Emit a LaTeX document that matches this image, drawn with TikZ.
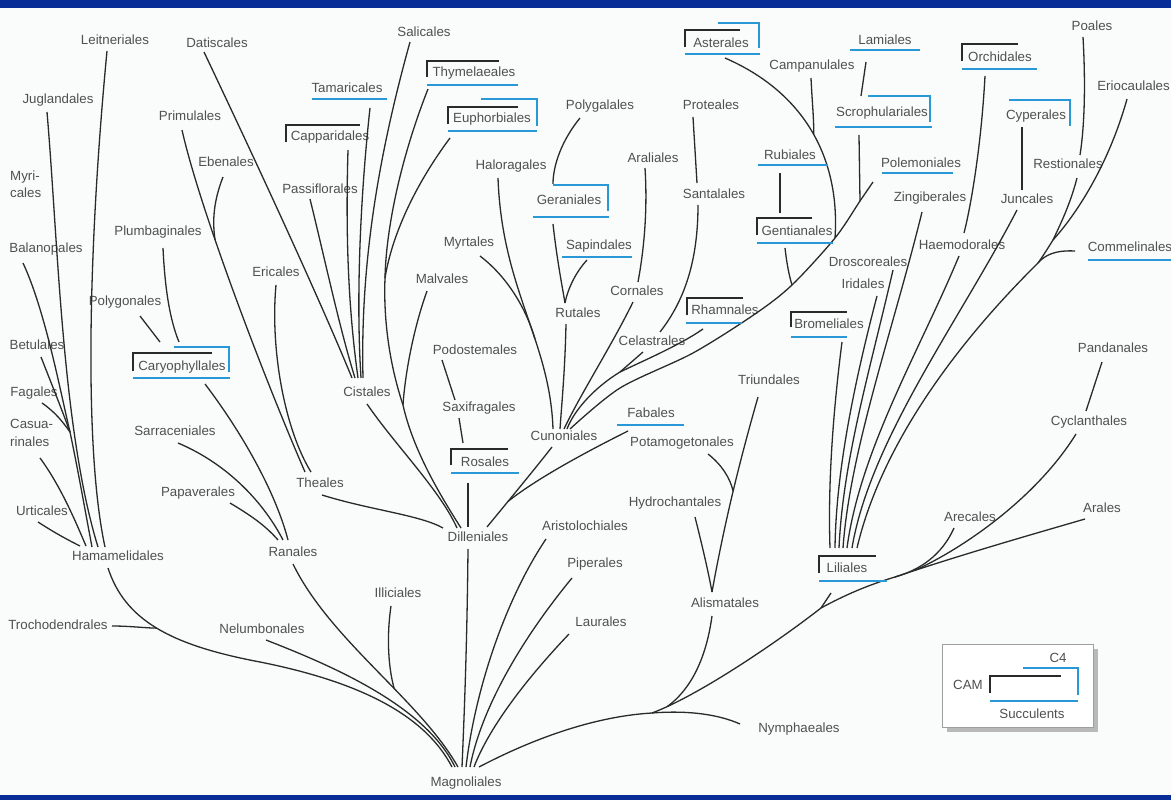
\documentclass[tikz,border=0pt]{standalone}
\usepackage{fontspec}
\setmainfont{Liberation Sans}
\definecolor{navy}{RGB}{8,45,150}
\definecolor{lblue}{RGB}{40,152,215}
\definecolor{ink}{RGB}{42,42,42}
\definecolor{txt}{RGB}{80,80,80}
\definecolor{bgc}{RGB}{250,251,251}
\newcommand\lblfont{\fontsize{13.3}{17.5}\selectfont}
\begin{document}
\begin{tikzpicture}[x=1pt,y=-1pt,
  lbl/.style={font=\lblfont,text=txt,inner sep=0pt},
  edge/.style={draw=ink,line width=1.3pt},
  ul/.style={draw=lblue,line width=2.4pt},
  bb/.style={draw=ink,line width=1.9pt}]
\useasboundingbox (0,0) rectangle (1171,800);
\fill[bgc] (0,0) rectangle (1171,800);
\fill[navy] (0,0) rectangle (1171,8);
\fill[navy] (0,795) rectangle (1171,800);

% ---------------- labels ----------------
\node[lbl] (leit) at (115,40) {Leitneriales};
\node[lbl] (dat) at (217,43) {Datiscales};
\node[lbl] (sal) at (424,32) {Salicales};
\node[lbl] (jug) at (58,100) {Juglandales};
\node[lbl] (prim) at (190,116) {Primulales};
\node[lbl] (tam) at (347,88) {Tamaricales};
\node[lbl] (thy) at (474,73) {Thymelaeales};
\node[lbl] (euph) at (492,119) {Euphorbiales};
\node[lbl] (capp) at (330,137) {Capparidales};
\node[lbl] (polyg) at (600,106) {Polygalales};
\node[lbl] (prot) at (711,105) {Proteales};
\node[lbl] (aster) at (721,43) {Asterales};
\node[lbl] (camp) at (812,66) {Campanulales};
\node[lbl] (lam) at (885,40) {Lamiales};
\node[lbl] (scro) at (882,113) {Scrophulariales};
\node[lbl] (orch) at (1000,57) {Orchidales};
\node[lbl] (poa) at (1092,26) {Poales};
\node[lbl,anchor=east] (erio) at (1170,86) {Eriocaulales};
\node[lbl] (cyp) at (1036,116) {Cyperales};
\node[lbl,anchor=west,align=left] (myr) at (10,184) {Myri-\\cales};
\node[lbl] (eben) at (226,162) {Ebenales};
\node[lbl] (halo) at (511,166) {Haloragales};
\node[lbl] (aral) at (653,158) {Araliales};
\node[lbl] (rub) at (790,155) {Rubiales};
\node[lbl] (polem) at (921,163) {Polemoniales};
\node[lbl] (rest) at (1068,164) {Restionales};
\node[lbl] (sant) at (714,194) {Santalales};
\node[lbl] (pass) at (320,189) {Passiflorales};
\node[lbl] (ger) at (569,200) {Geraniales};
\node[lbl] (zing) at (930,198) {Zingiberales};
\node[lbl] (junc) at (1027,199) {Juncales};
\node[lbl] (plum) at (158,232) {Plumbaginales};
\node[lbl] (gent) at (797,231) {Gentianales};
\node[lbl] (myrt) at (469,243) {Myrtales};
\node[lbl] (sap) at (599,246) {Sapindales};
\node[lbl] (haem) at (962,245) {Haemodorales};
\node[lbl] (comm) at (1130,247) {Commelinales};
\node[lbl] (bal) at (46,249) {Balanopales};
\node[lbl] (dros) at (868,262) {Droscoreales};
\node[lbl] (eric) at (276,272) {Ericales};
\node[lbl] (malv) at (442,279) {Malvales};
\node[lbl] (irid) at (863,284) {Iridales};
\node[lbl] (corn) at (637,291) {Cornales};
\node[lbl] (polygo) at (125,302) {Polygonales};
\node[lbl] (rut) at (578,313) {Rutales};
\node[lbl] (rham) at (725,310) {Rhamnales};
\node[lbl] (brom) at (829,324) {Bromeliales};
\node[lbl] (cel) at (652,341) {Celastrales};
\node[lbl] (bet) at (37,345) {Betulales};
\node[lbl] (pod) at (475,350) {Podostemales};
\node[lbl] (pand) at (1113,348) {Pandanales};
\node[lbl] (cary) at (182,367) {Caryophyllales};
\node[lbl] (triu) at (769,380) {Triundales};
\node[lbl] (cist) at (367,392) {Cistales};
\node[lbl] (fag) at (34,393) {Fagales};
\node[lbl] (sax) at (479,408) {Saxifragales};
\node[lbl] (fab) at (651,413) {Fabales};
\node[lbl,anchor=west,align=left] (casu) at (10,433) {Casua-\\rinales};
\node[lbl] (cycl) at (1089,422) {Cyclanthales};
\node[lbl] (sarr) at (175,431) {Sarraceniales};
\node[lbl] (cuno) at (564,436) {Cunoniales};
\node[lbl] (pota) at (682,443) {Potamogetonales};
\node[lbl] (ros) at (485,462) {Rosales};
\node[lbl] (the) at (320,483) {Theales};
\node[lbl] (pap) at (198,493) {Papaverales};
\node[lbl] (hydr) at (675,503) {Hydrochantales};
\node[lbl] (urt) at (42,511) {Urticales};
\node[lbl] (arl) at (1102,508) {Arales};
\node[lbl] (arec) at (970,517) {Arecales};
\node[lbl] (aris) at (585,526) {Aristolochiales};
\node[lbl] (dill) at (478,537) {Dilleniales};
\node[lbl] (ran) at (293,552) {Ranales};
\node[lbl] (hama) at (118,556) {Hamamelidales};
\node[lbl] (pip) at (595,564) {Piperales};
\node[lbl] (lili) at (847,568) {Liliales};
\node[lbl] (illi) at (398,593) {Illiciales};
\node[lbl] (alis) at (725,603) {Alismatales};
\node[lbl] (laur) at (601,622) {Laurales};
\node[lbl] (troc) at (58,625) {Trochodendrales};
\node[lbl] (nelu) at (262,629) {Nelumbonales};
\node[lbl] (nymp) at (799,729) {Nymphaeales};
\node[lbl] (magn) at (466,783) {Magnoliales};

% ---------------- coordinates ----------------
% Hamamelidales group
\coordinate (t-leit) at (107,51);
\coordinate (t-jug) at (47,112);
\coordinate (t-bal) at (23,263);
\coordinate (t-bet) at (41,357);
\coordinate (t-fag) at (42,403);
\coordinate (t-casu) at (40,458);
\coordinate (t-urt) at (38,522);
\coordinate (j-bet) at (70,432);
\coordinate (e-ham1) at (80,546);
\coordinate (e-ham2) at (86,546);
\coordinate (e-ham3) at (92,547);
\coordinate (e-ham4) at (98,547);
\coordinate (e-ham5) at (105,547);
\coordinate (t-hama) at (108,568);
\coordinate (t-troc) at (112,626);
% Magnoliales ends
\coordinate (e-mag1) at (452,767);
\coordinate (e-mag2) at (455,767);
\coordinate (e-mag3) at (458,767);
\coordinate (e-mag4) at (462,767);
\coordinate (e-mag5) at (466,767);
\coordinate (e-mag6) at (470,767);
\coordinate (e-mag7) at (474,767);
\coordinate (e-mag8) at (479,767);
\coordinate (t-nelu) at (266,640);
\coordinate (t-ran) at (293,564);
\coordinate (t-illi) at (391,606);
\coordinate (t-dill) at (468,549);
\coordinate (t-aris) at (546,539);
\coordinate (t-pip) at (572,578);
\coordinate (t-laur) at (569,634);
% monocots
\coordinate (j-nym) at (652,713);
\coordinate (t-nymp) at (740,724);
\coordinate (j-lil) at (821,608);
\coordinate (t-alis) at (712,616);
\coordinate (t-lili) at (831,593);
\coordinate (j-are) at (895,577);
\coordinate (t-arl) at (1085,519);
\coordinate (t-arec) at (954,528);
\coordinate (t-cycl) at (1076,434);
\coordinate (t-pand) at (1102,362);
\coordinate (e-pand) at (1086,411);
\coordinate (t-triu) at (758,397);
\coordinate (t-pota) at (708,454);
\coordinate (t-hydr) at (695,517);
\coordinate (e-alis) at (712,592);
% Liliales fan
\coordinate (e-lil1) at (830,548);
\coordinate (e-lil2) at (835,548);
\coordinate (e-lil3) at (839,548);
\coordinate (e-lil4) at (843,548);
\coordinate (e-lil5) at (847,548);
\coordinate (e-lil6) at (852,548);
\coordinate (e-lil7) at (857,548);
\coordinate (t-brom) at (842,342);
\coordinate (t-irid) at (877,296);
\coordinate (t-dros) at (893,270);
\coordinate (t-zing) at (922,212);
\coordinate (t-haem) at (959,256);
\coordinate (t-orch) at (985,76);
\coordinate (e-orch) at (964,233);
\coordinate (t-junc) at (1017,210);
\coordinate (t-cyp) at (1022,127);
\coordinate (e-cyp) at (1022,190);
\coordinate (j-comm) at (1038,263);
\coordinate (t-comm) at (1075,251);
\coordinate (j-erio) at (1053,240);
\coordinate (t-rest) at (1077,178);
\coordinate (t-poa) at (1083,37);
\coordinate (e-poa) at (1080,155);
\coordinate (t-erio) at (1127,99);
% asterids and rosids
\coordinate (t-polem) at (873,182);
\coordinate (j-scro) at (860,201);
\coordinate (j-ast) at (835,238);
\coordinate (j-gent) at (792,285);
\coordinate (t-scro) at (859,135);
\coordinate (t-lam) at (866,62);
\coordinate (e-lam) at (861,96);
\coordinate (t-ast) at (725,58);
\coordinate (t-camp) at (811,78);
\coordinate (t-rub) at (780,173);
\coordinate (e-rub) at (780,213);
\coordinate (t-gent) at (785,248);
\coordinate (e-cun1) at (570,429);
\coordinate (e-cun2) at (567,429);
\coordinate (e-cun3) at (564,429);
\coordinate (e-cun4) at (560,429);
\coordinate (e-cun5) at (553,429);
\coordinate (j-cel) at (620,372);
\coordinate (t-rham) at (703,329);
\coordinate (t-cel) at (643,352);
\coordinate (t-corn) at (633,302);
\coordinate (t-aral) at (645,168);
\coordinate (e-aral) at (638,282);
\coordinate (t-sant) at (698,205);
\coordinate (e-sant) at (660,332);
\coordinate (t-prot) at (693,117);
\coordinate (e-prot) at (697,183);
\coordinate (t-rut) at (566,324);
\coordinate (j-rut) at (565,303);
\coordinate (t-ger) at (553,224);
\coordinate (t-sap) at (587,260);
\coordinate (t-polyg) at (580,118);
\coordinate (e-polyg) at (553,184);
\coordinate (t-halo) at (498,178);
\coordinate (t-myrt) at (480,256);
\coordinate (t-cuno) at (552,447);
\coordinate (t-fab) at (628,431);
% Dilleniales group
\coordinate (e-dil1) at (443,528);
\coordinate (e-dil2) at (457,528);
\coordinate (e-dil3) at (461,528);
\coordinate (e-dil4) at (468,527);
\coordinate (e-dil5) at (487,527);
\coordinate (t-ros) at (468,483);
\coordinate (t-pod) at (442,360);
\coordinate (e-pod) at (455,400);
\coordinate (t-sax) at (459,418);
\coordinate (e-sax) at (463,443);
\coordinate (t-cist) at (367,404);
\coordinate (j-thy) at (385,278);
\coordinate (j-mal) at (403,405);
\coordinate (t-thy) at (428,89);
\coordinate (t-euph) at (450,138);
\coordinate (t-malv) at (427,291);
\coordinate (e-cis1) at (352,378);
\coordinate (e-cis2) at (355,378);
\coordinate (e-cis3) at (358,378);
\coordinate (e-cis4) at (361,378);
\coordinate (e-cis5) at (363,378);
\coordinate (t-dat) at (204,52);
\coordinate (t-pass) at (310,199);
\coordinate (t-capp) at (348,150);
\coordinate (t-tam) at (370,108);
\coordinate (t-sal) at (410,42);
% Theales and Ranales groups
\coordinate (t-prim) at (182,130);
\coordinate (t-eben) at (223,177);
\coordinate (t-eric) at (276,285);
\coordinate (e-the1) at (305,472);
\coordinate (e-the2) at (311,472);
\coordinate (t-the) at (322,495);
\coordinate (e-ran1) at (278,540);
\coordinate (e-ran2) at (283,540);
\coordinate (e-ran3) at (288,540);
\coordinate (t-pap) at (230,503);
\coordinate (t-sarr) at (178,443);
\coordinate (t-cary) at (205,384);
\coordinate (t-polygo) at (140,316);
\coordinate (e-polygo) at (160,342);
\coordinate (t-plum) at (163,248);
\coordinate (e-plum) at (179,342);

% ---------------- connectors ----------------
% Hamamelidales
\draw[edge] (t-urt) .. controls (55,533) and (68,540) .. (e-ham1);
\draw[edge] (t-casu) .. controls (60,485) and (75,520) .. (e-ham2);
\draw[edge] (t-bet) .. controls (52,385) and (62,410) .. (j-bet);
\draw[edge] (t-fag) .. controls (55,412) and (63,422) .. (j-bet);
\draw[edge] (t-bal) .. controls (45,310) and (60,390) .. (j-bet);
\draw[edge] (j-bet) .. controls (78,470) and (85,510) .. (e-ham3);
\draw[edge] (t-jug) .. controls (58,240) and (62,430) .. (e-ham4);
\draw[edge] (t-leit) .. controls (88,250) and (84,450) .. (e-ham5);
\draw[edge] (t-hama) .. controls (125,620) and (170,645) .. (260,662) coordinate[pos=0.5] (j-troc)
   .. controls (360,682) and (425,715) .. (e-mag1);
\draw[edge] (t-troc) .. controls (130,626) and (145,628) .. (j-troc);
% to Magnoliales
\draw[edge] (t-nelu) .. controls (330,665) and (425,705) .. (e-mag2);
\draw[edge] (t-ran) .. controls (330,640) and (420,700) .. (e-mag3) coordinate[pos=0.6] (j-illi);
\draw[edge] (t-illi) .. controls (386,640) and (389,670) .. (j-illi);
\draw[edge] (t-dill) .. controls (467,650) and (464,720) .. (e-mag4);
\draw[edge] (t-aris) .. controls (505,600) and (475,690) .. (e-mag5);
\draw[edge] (t-pip) .. controls (525,635) and (482,705) .. (e-mag6);
\draw[edge] (t-laur) .. controls (530,675) and (490,725) .. (e-mag7);
\draw[edge] (e-mag8) .. controls (540,735) and (600,716) .. (j-nym);
% monocots
\draw[edge] (j-nym) .. controls (690,710) and (720,715) .. (t-nymp);
\draw[edge] (j-nym) .. controls (700,695) and (780,640) .. (j-lil) coordinate[pos=0.1] (j-alis);
\draw[edge] (t-alis) .. controls (706,660) and (690,690) .. (j-alis);
\draw[edge] (t-lili) -- (j-lil);
\draw[edge] (j-lil) .. controls (845,595) and (868,585) .. (j-are);
\draw[edge] (j-are) .. controls (960,555) and (1030,535) .. (t-arl) coordinate[pos=0.1] (j-cyc);
\draw[edge] (t-arec) .. controls (942,555) and (920,570) .. (j-are);
\draw[edge] (t-cycl) .. controls (1035,500) and (960,550) .. (j-cyc);
\draw[edge] (t-pand) -- (e-pand);
\draw[edge] (t-triu) .. controls (740,460) and (725,520) .. (e-alis) coordinate[pos=0.5] (j-pota);
\draw[edge] (t-pota) .. controls (722,465) and (730,478) .. (j-pota);
\draw[edge] (t-hydr) .. controls (702,545) and (708,570) .. (e-alis);
% Liliales fan
\draw[edge] (t-brom) .. controls (832,420) and (828,490) .. (e-lil1);
\draw[edge] (t-irid) .. controls (855,380) and (836,470) .. (e-lil2);
\draw[edge] (t-dros) .. controls (870,370) and (843,460) .. (e-lil3);
\draw[edge] (t-zing) .. controls (893,330) and (850,450) .. (e-lil4);
\draw[edge] (t-haem) .. controls (920,350) and (860,450) .. (e-lil5);
\draw[edge] (t-orch) .. controls (981,150) and (970,210) .. (e-orch);
\draw[edge] (t-junc) .. controls (960,320) and (870,440) .. (e-lil6);
\draw[edge] (t-cyp) -- (e-cyp);
\draw[edge] (j-comm) .. controls (950,350) and (880,450) .. (e-lil7);
\draw[edge] (t-comm) .. controls (1055,250) and (1045,255) .. (j-comm);
\draw[edge] (j-erio) .. controls (1048,248) and (1043,256) .. (j-comm);
\draw[edge] (t-rest) .. controls (1070,205) and (1060,225) .. (j-erio);
\draw[edge] (t-poa) .. controls (1086,90) and (1084,130) .. (e-poa);
\draw[edge] (t-erio) .. controls (1110,160) and (1080,210) .. (j-erio);
% asterids
\draw[edge] plot[smooth,tension=0.5] coordinates {(t-polem) (j-scro) (j-ast) (j-gent) (755,314) (693,353) (620,388) (e-cun1)};
\draw[edge] (t-scro) -- (j-scro);
\draw[edge] (t-lam) -- (e-lam);
\draw[edge] (t-ast) .. controls (810,95) and (840,165) .. (j-ast) coordinate[pos=0.5] (j-camp);
\draw[edge] (t-camp) .. controls (812,100) and (814,120) .. (j-camp);
\draw[edge] (t-rub) -- (e-rub);
\draw[edge] (t-gent) .. controls (787,265) and (789,275) .. (j-gent);
% rosids to Cunoniales
\draw[edge] (t-rham) .. controls (680,345) and (645,360) .. (j-cel) .. controls (597,386) and (575,408) .. (e-cun2);
\draw[edge] (t-cel) -- (j-cel);
\draw[edge] (t-corn) .. controls (612,345) and (580,395) .. (e-cun3);
\draw[edge] (t-aral) .. controls (648,215) and (643,255) .. (e-aral);
\draw[edge] (t-sant) .. controls (698,260) and (685,300) .. (e-sant);
\draw[edge] (t-prot) -- (e-prot);
\draw[edge] (t-rut) .. controls (565,370) and (562,400) .. (e-cun4);
\draw[edge] (t-ger) .. controls (557,260) and (562,285) .. (j-rut);
\draw[edge] (t-sap) .. controls (576,272) and (568,288) .. (j-rut);
\draw[edge] (t-polyg) .. controls (562,140) and (553,165) .. (e-polyg);
\draw[edge] (t-halo) .. controls (502,290) and (550,340) .. (e-cun5) coordinate[pos=0.62] (j-myrt);
\draw[edge] (t-myrt) .. controls (505,275) and (525,305) .. (j-myrt);
\draw[edge] (t-cuno) .. controls (530,475) and (505,505) .. (e-dil5) coordinate[pos=0.65] (j-fab);
\draw[edge] (t-fab) .. controls (580,455) and (535,480) .. (j-fab);
% Dilleniales group
\draw[edge] (t-ros) -- (e-dil4);
\draw[edge] (t-pod) -- (e-pod);
\draw[edge] (t-sax) -- (e-sax);
\draw[edge] (t-the) .. controls (370,510) and (420,515) .. (e-dil1);
\draw[edge] (t-cist) .. controls (395,445) and (440,490) .. (e-dil2);
\draw[edge] (j-thy) .. controls (383,330) and (393,375) .. (j-mal) .. controls (413,450) and (440,495) .. (e-dil3);
\draw[edge] (t-thy) .. controls (400,160) and (386,230) .. (j-thy);
\draw[edge] (t-euph) .. controls (415,185) and (392,235) .. (j-thy);
\draw[edge] (t-malv) .. controls (413,330) and (405,375) .. (j-mal);
% Cistales
\draw[edge] (t-dat) .. controls (260,170) and (320,300) .. (e-cis1);
\draw[edge] (t-pass) .. controls (325,260) and (340,330) .. (e-cis2);
\draw[edge] (t-capp) .. controls (345,250) and (350,320) .. (e-cis3);
\draw[edge] (t-tam) .. controls (360,200) and (356,300) .. (e-cis4);
\draw[edge] (t-sal) .. controls (380,150) and (360,260) .. (e-cis5);
% Theales
\draw[edge] (t-prim) .. controls (200,210) and (265,380) .. (e-the1) coordinate[pos=0.35] (j-eben);
\draw[edge] (t-eben) .. controls (214,200) and (212,220) .. (j-eben);
\draw[edge] (t-eric) .. controls (270,350) and (285,430) .. (e-the2);
% Ranales
\draw[edge] (t-pap) .. controls (250,515) and (265,525) .. (e-ran1);
\draw[edge] (t-sarr) .. controls (230,465) and (265,505) .. (e-ran2);
\draw[edge] (t-cary) .. controls (240,430) and (275,490) .. (e-ran3);
\draw[edge] (t-polygo) -- (e-polygo);
\draw[edge] (t-plum) .. controls (165,290) and (170,320) .. (e-plum);

% ---------------- C4 / CAM / succulent marks ----------------
% blue underlines (succulents)
\draw[ul] (312,99) -- (387,99);
\draw[ul] (427,85) -- (518,85);
\draw[ul] (448,131) -- (537,131);
\draw[ul] (685,54) -- (760,54);
\draw[ul] (850,50) -- (920,50);
\draw[ul] (962,69) -- (1037,69);
\draw[ul] (835,127) -- (932,127);
\draw[ul] (758,165) -- (828,165);
\draw[ul] (882,173) -- (953,173);
\draw[ul] (533,217) -- (609,217);
\draw[ul] (562,257) -- (632,257);
\draw[ul] (757,243) -- (833,243);
\draw[ul] (1088,260) -- (1171,260);
\draw[ul] (686,323) -- (742,323);
\draw[ul] (791,337) -- (847,337);
\draw[ul] (133,378) -- (230,378);
\draw[ul] (617,425) -- (684,425);
\draw[ul] (451,473) -- (519,473);
\draw[ul] (819,581) -- (887,581);
% blue brackets (C4)
\draw[ul] (174,347) -| (229,372);
\draw[ul] (718,23) -| (759,48);
\draw[ul] (481,99) -| (537,126);
\draw[ul] (553,185) -| (608,211);
\draw[ul] (868,96) -| (930,122);
\draw[ul] (1009,100) -| (1070,126);
% black brackets (CAM)
\draw[bb] (286,142) |- (360,125);
\draw[bb] (427,77) |- (499,61);
\draw[bb] (448,124) |- (518,107);
\draw[bb] (685,47) |- (740,30);
\draw[bb] (962,61) |- (1018,44);
\draw[bb] (757,235) |- (812,218);
\draw[bb] (133,371) |- (212,353);
\draw[bb] (451,465) |- (508,449);
\draw[bb] (687,315) |- (743,298);
\draw[bb] (791,327) |- (847,312);
\draw[bb] (819,573) |- (876,556);

% ---------------- legend ----------------
\fill[gray!55] (947,649) rectangle (1098,732);
\draw[draw=gray!75,fill=white,line width=0.8pt] (942,644) rectangle (1093,727);
\node[lbl] (c4) at (1058,658) {C4};
\node[lbl] (cam) at (968,685) {CAM};
\node[lbl] (succ) at (1032,714) {Succulents};
\draw[ul] (1023,668) -| (1078,695);
\draw[bb] (990,693) |- (1061,676);
\draw[ul] (990,701) -- (1078,701);
\end{tikzpicture}
\end{document}
